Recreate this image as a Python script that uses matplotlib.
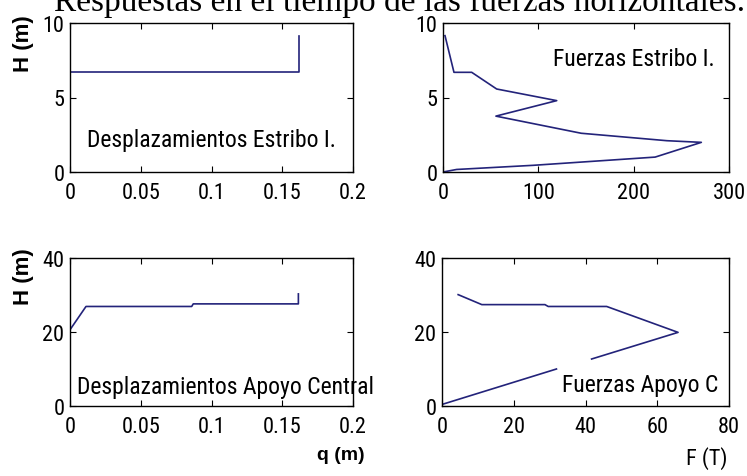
import numpy as np
import matplotlib
matplotlib.use("Agg")
import matplotlib.pyplot as plt
from matplotlib import font_manager as fm

# ---- data -------------------------------------------------------------
# Displacement profile, abutment (Estribo I.)
q_estribo = [0.0, 0.162, 0.162]
h_estribo_q = [6.69, 6.69, 9.15]

# Force profile, abutment (Estribo I.)
f_estribo = [2.1, 11.5, 30.1, 56.3, 119.3, 55.5, 145.0, 235.0, 271.0, 222.5, 95.0, 14.3, 0.0]
h_estribo_f = [9.15, 6.69, 6.69, 5.57, 4.79, 3.75, 2.60, 2.10, 1.99, 1.00, 0.45, 0.17, 0.0]

# Displacement profile, central support (Apoyo Central)
q_central = [0.0, 0.0113, 0.086, 0.0871, 0.1614, 0.1614]
h_central_q = [20.6, 26.9, 26.9, 27.6, 27.6, 30.3]

# Force profile, central support (Apoyo C); NaN breaks the line
f_central = [4.5, 11.1, 28.7, 29.6, 45.9, 65.8, 41.7, np.nan, 31.9, 0.4]
h_central_f = [30.1, 27.4, 27.4, 26.9, 26.9, 19.9, 12.7, np.nan, 10.0, 0.54]

x_ticks_q = [0, 0.05, 0.1, 0.15, 0.2]
x_labels_q = ["0", "0.05", "0.1", "0.15", "0.2"]
x_ticks_f1 = [0, 100, 200, 300]
x_ticks_f2 = [0, 20, 40, 60, 80]
y_ticks_1 = [0, 5, 10]
y_ticks_2 = [0, 20, 40]

title_text = "Respuestas en el tiempo de las fuerzas horizontales."

# ---- fonts ------------------------------------------------------------
names = {f.name for f in fm.fontManager.ttflist}


def pick(cands, default="DejaVu Sans"):
    for c in cands:
        if c in names:
            return c
    return default


narrow = pick(["Liberation Sans Narrow", "Arial Narrow", "Roboto Condensed"], None)
if narrow is None:
    narrow_kw = dict(family="DejaVu Sans", stretch="condensed")
else:
    narrow_kw = dict(family=narrow)
sans = pick(["Liberation Sans", "Arial"])
serif = pick(["Liberation Serif", "Times New Roman", "DejaVu Serif"])

LINE = "#23237a"
W, H = 747, 477

fig = plt.figure(figsize=(W / 100, H / 100), dpi=100)
fig.patch.set_facecolor("white")


def add_axes(l, t, r, b):
    return fig.add_axes([l / W, 1 - b / H, (r - l) / W, (b - t) / H])


def style(ax, xt, xl, yt, xlim, ylim):
    ax.set_xlim(*xlim)
    ax.set_ylim(*ylim)
    ax.set_xticks(xt)
    ax.set_xticklabels(xl)
    ax.set_yticks(yt)
    ax.set_yticklabels([str(v) for v in yt])
    ax.tick_params(direction="in", length=4, width=0.8, top=True, right=True,
                   labelsize=16, colors="black")
    ax.tick_params(axis="x", pad=7)
    ax.tick_params(axis="y", pad=4)
    for lab in ax.get_xticklabels() + ax.get_yticklabels():
        lab.set_fontproperties(fm.FontProperties(size=16, **narrow_kw))
    for s in ax.spines.values():
        s.set_linewidth(1.0)
        s.set_color("black")


ax1 = add_axes(70, 24, 353, 173)
ax2 = add_axes(443, 24, 729, 173)
ax3 = add_axes(70, 259, 353, 407)
ax4 = add_axes(442, 259, 729, 407)

ax1.plot(q_estribo, h_estribo_q, color=LINE, lw=1.2)
style(ax1, x_ticks_q, x_labels_q, y_ticks_1, (0, 0.2), (0, 10))
ax1.text(0.012, 2.15, "Desplazamientos Estribo I.", va="center", ha="left",
         fontsize=17, **narrow_kw)

ax2.plot(f_estribo, h_estribo_f, color=LINE, lw=1.2)
style(ax2, x_ticks_f1, [str(v) for v in x_ticks_f1], y_ticks_1, (0, 300), (0, 10))
ax2.text(115, 7.6, "Fuerzas Estribo I.", va="center", ha="left",
         fontsize=17, **narrow_kw)

ax3.plot(q_central, h_central_q, color=LINE, lw=1.2)
style(ax3, x_ticks_q, x_labels_q, y_ticks_2, (0, 0.2), (0, 40))
ax3.text(0.005, 5.4, "Desplazamientos Apoyo Central", va="center", ha="left",
         fontsize=17, **narrow_kw)

ax4.plot(f_central, h_central_f, color=LINE, lw=1.2)
style(ax4, x_ticks_f2, [str(v) for v in x_ticks_f2], y_ticks_2, (0, 80), (0, 40))
ax4.text(33.4, 5.9, "Fuerzas Apoyo C", va="center", ha="left",
         fontsize=17, **narrow_kw)

# axis captions
fig.text(24 / W, 1 - 44 / H, "H (m)", rotation=90, ha="center", va="center",
         fontsize=16, fontweight="bold", family=sans)
fig.text(24 / W, 1 - 277 / H, "H (m)", rotation=90, ha="center", va="center",
         fontsize=16, fontweight="bold", family=sans)
fig.text(341 / W, 1 - 456 / H, "q (m)", ha="center", va="center",
         fontsize=14, fontweight="bold", family=sans)
fig.text(707 / W, 1 - 459 / H, "F (T)", ha="center", va="center",
         fontsize=16, **narrow_kw)

# page caption above the panels (cut by the top edge)
fig.text(745 / W, 1 - 11 / H, title_text, ha="right", va="baseline",
         fontsize=24, family=serif)

fig.savefig("out.png", dpi=100, facecolor="white")
